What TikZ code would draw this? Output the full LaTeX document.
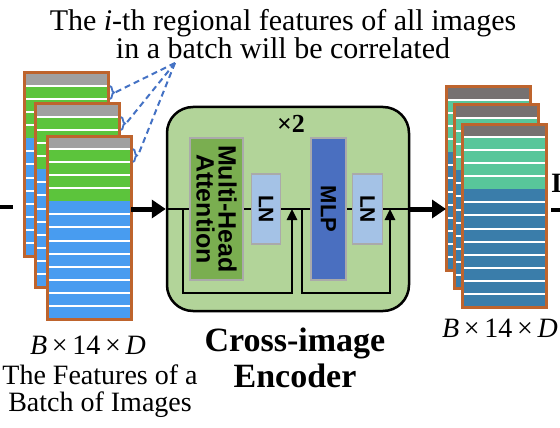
\documentclass[tikz,border=0pt]{standalone}
\usepackage{fontspec}
\setmainfont{Liberation Serif}
\setsansfont{Liberation Sans}
\usetikzlibrary{arrows.meta}
\usetikzlibrary{positioning}
\usetikzlibrary{decorations.pathreplacing}

\definecolor{cardedge}{RGB}{190,100,45}
\definecolor{ingray}{RGB}{160,160,160}
\definecolor{ingreen}{RGB}{92,196,60}
\definecolor{inblue}{RGB}{72,156,240}
\definecolor{outgray}{RGB}{118,113,113}
\definecolor{outgreen}{RGB}{88,198,154}
\definecolor{outblue}{RGB}{58,125,170}
\definecolor{encgreen}{RGB}{178,212,153}
\definecolor{mhagreen}{RGB}{122,174,80}
\definecolor{lnblue}{RGB}{164,194,230}
\definecolor{mlpblue}{RGB}{74,111,192}
\definecolor{blockedge}{RGB}{170,170,170}
\definecolor{cueblue}{RGB}{68,114,196}

% one feature map: name, x, y, head colour, upper colour, lower colour
\newcommand{\featcard}[6]{%
  \fill[#4] (#2,#3) rectangle ++(84,13.07);
  \fill[#5] (#2,#3+13.07) rectangle ++(84,52.28);
  \fill[#6] (#2,#3+65.35) rectangle ++(84,117.65);
  \foreach \k in {1,2,3,4,6,7,8,9,10,11,12,13}
    \draw[stripe] (#2,#3+\k*13.07) -- ++(84,0);
  \node[card, anchor=north west] (#1) at (#2,#3) {};
}

\begin{document}
\begin{tikzpicture}[x=1pt, y=-1pt,
    card/.style={draw=cardedge, line width=3pt, minimum width=84pt, minimum height=183pt, inner sep=0pt, outer sep=0pt},
    stripe/.style={white, line width=2pt},
    block/.style={draw=blockedge, line width=1.5pt, inner sep=0pt},
    blocktext/.style={rotate=-90, align=center, inner sep=0pt},
    flow/.style={line width=2.5pt},
    residual/.style={line width=2.5pt, -{Triangle[length=11pt,width=10pt]}},
    bigarrow/.style={line width=5pt, -{Triangle[length=14pt,width=18pt]}},
    cue/.style={draw=cueblue, line width=2pt, dash pattern=on 6pt off 4pt},
    bracket/.style={draw=cueblue, line width=1.8pt, decorate, decoration={brace, amplitude=4pt}},
    caption/.style={font=\fontsize{28}{27}\selectfont, align=center, inner sep=0pt}]
    \useasboundingbox (0,0) rectangle (560,428);

    % input batch
    \featcard{in1}{24}{73}{ingray}{ingreen}{inblue}
    \featcard{in2}{35}{104}{ingray}{ingreen}{inblue}
    \featcard{in3}{47}{136}{ingray}{ingreen}{inblue}

    % output batch
    \featcard{out1}{446}{87}{outgray}{outgreen}{outblue}
    \featcard{out2}{454}{105}{outgray}{outgreen}{outblue}
    \featcard{out3}{462}{124}{outgray}{outgreen}{outblue}

    % encoder
    \node[draw, line width=2.5pt, fill=encgreen, rounded corners=26pt, minimum width=242pt, minimum height=204pt] (enc) at (288,209) {};
    \node[font=\bfseries\fontsize{26}{26}\selectfont, inner sep=0pt] (rep) at (291,124) {×2};
    \node[block, fill=mhagreen, minimum width=53pt, minimum height=142pt] (mha) at (216.5,209) {};
    \node[block, fill=lnblue, minimum width=29pt, minimum height=70pt] (ln1) at (266,209) {};
    \node[block, fill=mlpblue, minimum width=35pt, minimum height=142pt] (mlp) at (328.5,209) {};
    \node[block, fill=lnblue, minimum width=30pt, minimum height=70pt] (ln2) at (367.5,209) {};

    \node[blocktext, font=\sffamily\bfseries\fontsize{25}{22}\selectfont] (mhalabel) at (mha) {Multi-Head\\Attention};
    \node[blocktext, font=\sffamily\bfseries\fontsize{21}{21}\selectfont] (ln1label) at (ln1) {LN};
    \node[blocktext, font=\sffamily\bfseries\fontsize{22}{22}\selectfont] (mlplabel) at (mlp) {MLP};
    \node[blocktext, font=\sffamily\bfseries\fontsize{21}{21}\selectfont] (ln2label) at (ln2) {LN};

    \draw[flow] (enc.west) -- (mha.west);
    \draw[flow] (mha.east) -- (ln1.west);
    \draw[flow] (ln1.east) -- (mlp.west);
    \draw[flow] (mlp.east) -- (ln2.west);
    \draw[flow] (ln2.east) -- (enc.east);

    % skip connections
    \coordinate (skip1) at (183,209);
    \coordinate (join1) at (292,209);
    \coordinate (skip2) at (302,209);
    \coordinate (join2) at (390,209);
    \draw[residual] (skip1) -- ++(0,84) -| (join1);
    \draw[residual] (skip2) -- ++(0,84) -| (join2);

    \draw[bigarrow] (in3.east |- enc.west) -- (enc.west);
    \draw[bigarrow] (enc.east) -- (out1.west |- enc.east);

    % cut-off ends
    \coordinate (feedin) at (0,207);
    \coordinate (feedend) at (13,207);
    \draw[line width=4pt] (feedin) -- (feedend);
    \coordinate (exitstart) at (551,210);
    \coordinate (exitend) at (560,210);
    \draw[line width=4pt] (exitstart) -- (exitend);
    \node[font=\bfseries\fontsize{28}{28}\selectfont, anchor=base west, inner sep=0pt] (cut) at (551,192) {I};

    % correlated regions
    \node[font=\fontsize{30}{28}\selectfont, align=center, inner sep=0pt] (note) at (283,34)
      {The \textit{i}-th regional features of all images\\in a batch will be correlated};
    \coordinate (apex) at (175,63);
    \draw[bracket] (110,86) -- (110,99);
    \draw[bracket] (121,117) -- (121,130);
    \draw[bracket] (133,149) -- (133,162);
    \coordinate (tip1) at (115,92.5);
    \coordinate (tip2) at (126,123.5);
    \coordinate (tip3) at (138,155.5);
    \draw[cue] (apex) -- (tip1);
    \draw[cue] (apex) -- (tip2);
    \draw[cue] (apex) -- (tip3);

    % captions
    \node[caption] (indim) at (88,345) {\textit{B}\,×\,14\,×\,\textit{D}};
    \node[caption] (incaption) at (100,391) {The Features of a\\Batch of Images};
    \node[font=\bfseries\fontsize{34}{36}\selectfont, align=center, inner sep=0pt] (enctitle) at (295,358) {Cross-image\\Encoder};
    \node[caption] (outdim) at (500,328) {\textit{B}\,×\,14\,×\,\textit{D}};
\end{tikzpicture}
\end{document}
